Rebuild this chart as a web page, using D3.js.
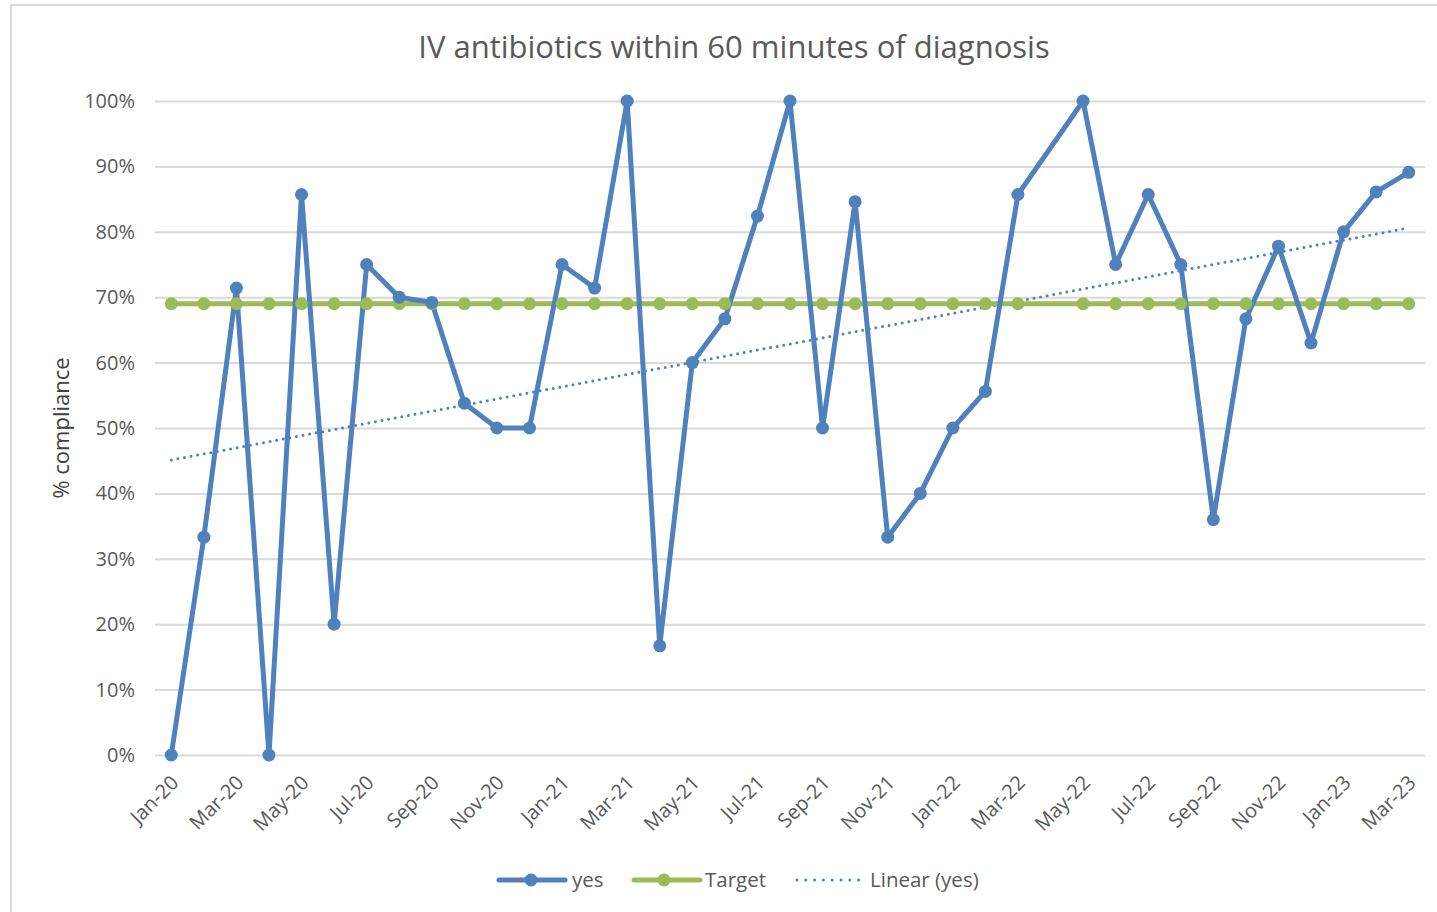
<!DOCTYPE html>
<html>
<head>
<meta charset="utf-8">
<script src="https://cdn.jsdelivr.net/npm/d3@7"></script>
<style>
  html, body { margin: 0; padding: 0; background: #ffffff; }
  svg { display: block; font-family: "Open Sans", sans-serif; }
</style>
</head>
<body>
<svg id="chart" width="1437" height="912"></svg>
<script>
const months = ["Jan-20","Feb-20","Mar-20","Apr-20","May-20","Jun-20","Jul-20","Aug-20","Sep-20","Oct-20","Nov-20","Dec-20",
  "Jan-21","Feb-21","Mar-21","Apr-21","May-21","Jun-21","Jul-21","Aug-21","Sep-21","Oct-21","Nov-21","Dec-21",
  "Jan-22","Feb-22","Mar-22","Apr-22","May-22","Jun-22","Jul-22","Aug-22","Sep-22","Oct-22","Nov-22","Dec-22",
  "Jan-23","Feb-23","Mar-23"];
const yesValues = [0, 33.3, 71.4, 0, 85.7, 20, 75, 70, 69.2, 53.8, 50, 50,
  75, 71.4, 100, 16.7, 60, 66.7, 82.4, 100, 50, 84.6, 33.3, 40,
  50, 55.6, 85.7, null, 100, 75, 85.7, 75, 36, 66.7, 77.8, 63,
  80, 86.1, 89.1];
const targetValues = [69, 69, 69, 69, 69, 69, 69, 69, 69, 69, 69, 69,
  69, 69, 69, 69, 69, 69, 69, 69, 69, 69, 69, 69,
  69, 69, 69, null, 69, 69, 69, 69, 69, 69, 69, 69,
  69, 69, 69];
const trendMonths = ["Jan-20", "Mar-23"];
const trendValues = [45.1, 80.6];
const tickLabels = ["Jan-20","Mar-20","May-20","Jul-20","Sep-20","Nov-20","Jan-21","Mar-21","May-21","Jul-21","Sep-21","Nov-21",
  "Jan-22","Mar-22","May-22","Jul-22","Sep-22","Nov-22","Jan-23","Mar-23"];
const yTicks = [0, 10, 20, 30, 40, 50, 60, 70, 80, 90, 100];
const seriesNames = ["yes", "Target", "Linear (yes)"];

const blue = "#4F81BD", green = "#9BBB59", textCol = "#595959", gridCol = "#d9d9d9";
const svg = d3.select("#chart");

// outer chart border
svg.append("rect").attr("x", 11).attr("y", 5).attr("width", 1445).attr("height", 930)
  .attr("fill", "#fff").attr("stroke", "#d9d9d9").attr("stroke-width", 2);

const plot = { left: 155, right: 1425, top: 101, bottom: 755 };
const x = d3.scalePoint().domain(months).range([plot.left, plot.right]).padding(0.5);
const y = d3.scaleLinear().domain([0, 100]).range([plot.bottom, plot.top]);

// title
svg.append("text").attr("x", 734).attr("y", 58).attr("text-anchor", "middle")
  .attr("font-size", 31).attr("fill", textCol).text("IV antibiotics within 60 minutes of diagnosis");

// gridlines + y axis
const yAxis = d3.axisLeft(y).tickValues(yTicks).tickSize(-(plot.right - plot.left)).tickPadding(20)
  .tickFormat(d => d + "%");
const gy = svg.append("g").attr("transform", `translate(${plot.left},0)`).call(yAxis);
gy.select(".domain").remove();
gy.selectAll(".tick line").attr("stroke", gridCol).attr("stroke-width", 2);
gy.selectAll(".tick text").attr("fill", textCol).attr("font-size", 20).attr("font-family", "Open Sans");

// y axis title
svg.append("text").attr("transform", "translate(69,428) rotate(-90)").attr("text-anchor", "middle")
  .attr("font-size", 22).attr("fill", "#404040").text("% compliance");

// x labels
const xAxis = d3.axisBottom(x).tickValues(tickLabels).tickSize(0).tickPadding(0);
const gx = svg.append("g").attr("transform", `translate(0,${plot.bottom})`).call(xAxis);
gx.select(".domain").remove();
gx.selectAll(".tick text")
  .attr("fill", textCol).attr("font-size", 20).attr("font-family", "Open Sans")
  .attr("text-anchor", "end").attr("dy", "0.35em")
  .attr("transform", "translate(3,24) rotate(-45)");

// trend line
const trendData = trendMonths.map((m, i) => ({ m, v: trendValues[i] }));
const lineGen = d3.line().x(d => x(d.m)).y(d => y(d.v));
svg.append("path").datum(trendData).attr("d", lineGen)
  .attr("fill", "none").attr("stroke", blue).attr("stroke-width", 3)
  .attr("stroke-linecap", "round").attr("stroke-dasharray", "0,6.7");

const yesData = months.map((m, i) => ({ m, v: yesValues[i] })).filter(d => d.v !== null);
const targetData = months.map((m, i) => ({ m, v: targetValues[i] })).filter(d => d.v !== null);

svg.append("path").datum(targetData).attr("d", lineGen)
  .attr("fill", "none").attr("stroke", green).attr("stroke-width", 5).attr("stroke-linejoin", "round");
svg.append("path").datum(yesData).attr("d", lineGen)
  .attr("fill", "none").attr("stroke", blue).attr("stroke-width", 5).attr("stroke-linejoin", "round");

svg.append("g").selectAll("circle").data(targetData).join("circle")
  .attr("cx", d => x(d.m)).attr("cy", d => y(d.v)).attr("r", 6.5).attr("fill", green);
svg.append("g").selectAll("circle").data(yesData).join("circle")
  .attr("cx", d => x(d.m)).attr("cy", d => y(d.v)).attr("r", 6.5).attr("fill", blue);

// legend
const lg = svg.append("g").attr("font-size", 20.5).attr("fill", textCol);
const ly = 880;
lg.append("line").attr("x1", 499).attr("x2", 565).attr("y1", ly).attr("y2", ly)
  .attr("stroke", blue).attr("stroke-width", 5).attr("stroke-linecap", "round");
lg.append("circle").attr("cx", 531).attr("cy", ly).attr("r", 6.5).attr("fill", blue);
lg.append("text").attr("x", 572).attr("y", ly).attr("dy", "0.35em").text(seriesNames[0]);
lg.append("line").attr("x1", 634).attr("x2", 700).attr("y1", ly).attr("y2", ly)
  .attr("stroke", green).attr("stroke-width", 5).attr("stroke-linecap", "round");
lg.append("circle").attr("cx", 664).attr("cy", ly).attr("r", 6.5).attr("fill", green);
lg.append("text").attr("x", 705).attr("y", ly).attr("dy", "0.35em").text(seriesNames[1]);
lg.append("line").attr("x1", 797).attr("x2", 860).attr("y1", ly).attr("y2", ly)
  .attr("stroke", blue).attr("stroke-width", 3).attr("stroke-linecap", "round").attr("stroke-dasharray", "0,8.8");
lg.append("text").attr("x", 870).attr("y", ly).attr("dy", "0.35em").text(seriesNames[2]);
</script>
</body>
</html>
